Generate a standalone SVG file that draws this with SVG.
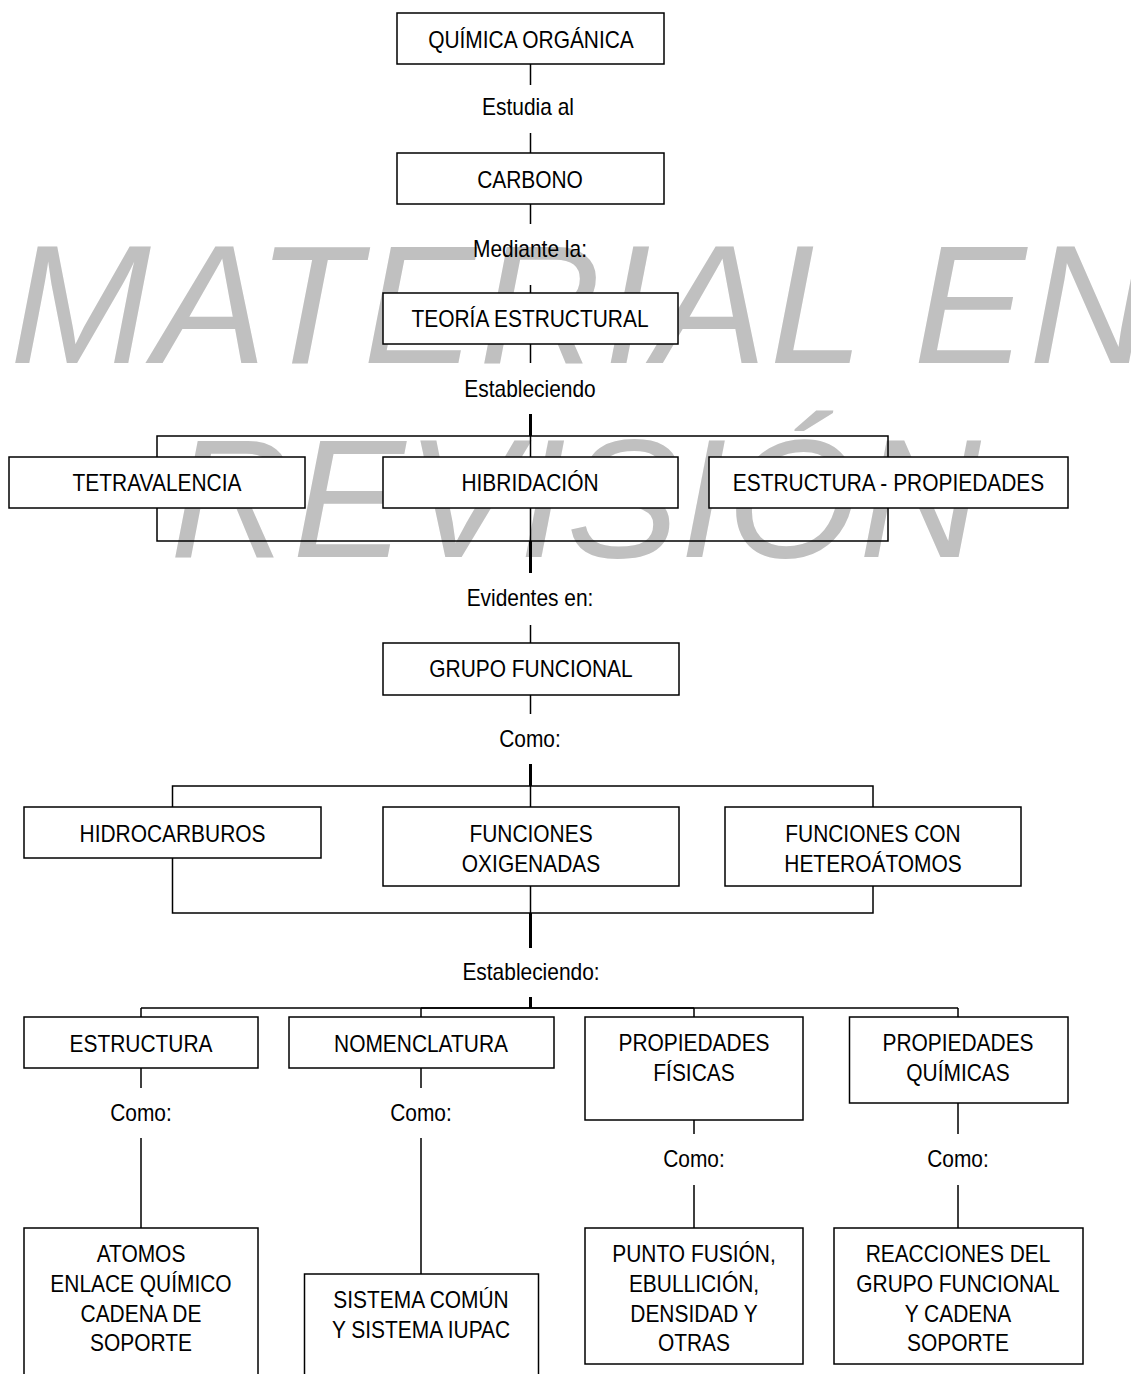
<svg xmlns="http://www.w3.org/2000/svg" width="1131" height="1374" viewBox="0 0 1131 1374">
<style>
.wm{font-family:"Liberation Sans",Arial,sans-serif;font-style:italic;font-size:169px;fill:#c0c0c0}
.t{font-family:"Liberation Sans",Arial,sans-serif;font-size:23px;fill:#000;text-anchor:middle}
.box{fill:#fff;stroke:#000;stroke-width:1.5}
.ln{stroke:#000;stroke-width:1.5;fill:none}
.tk{stroke:#000;stroke-width:3;fill:none}
</style>
<rect width="1131" height="1374" fill="#fff"/>
<g id="watermark">
<text class="wm" x="10" y="363" letter-spacing="3">MATERIAL EN</text>
<text class="wm" x="170" y="557" letter-spacing="0.5">REVISIÓN</text>
</g>
<g id="connectors">
<path class="ln" d="M530.5 64V85M530.5 133V153M530.5 204V224M530.5 285V293M530.5 344V363M530.5 436V457M530.5 508V541M530.5 625V643M530.5 695V714M530.5 786V807M530.5 886V913"/>
<path class="tk" d="M530.5 414V436M530.5 541V573M530.5 764V786M530.5 913V948M530.5 997V1008"/>
<rect class="ln" x="157" y="436" width="731" height="105"/>
<rect class="ln" x="172.5" y="786" width="700.5" height="127"/>
<path class="ln" d="M141 1008H958M141 1008V1017M421 1008V1017M694 1008V1017M958 1008V1017"/>
<path class="ln" stroke-width="2" d="M421 1008H694"/>
<path class="ln" d="M141 1068V1088M141 1138V1228M421 1068V1088M421 1138V1274M694 1120V1134M694 1185V1228M958 1103V1134M958 1185V1228"/>
</g>
<g id="n-quimica"><rect class="box" x="397" y="13" width="267" height="51"/><text class="t" transform="translate(531 48) scale(.91 1)">QUÍMICA ORGÁNICA</text></g>
<g id="l-estudia"><text class="t" transform="translate(528 115) scale(.91 1)">Estudia al</text></g>
<g id="n-carbono"><rect class="box" x="397" y="153" width="267" height="51"/><text class="t" transform="translate(530 188) scale(.91 1)">CARBONO</text></g>
<g id="l-mediante"><text class="t" transform="translate(530 257) scale(.91 1)">Mediante la:</text></g>
<g id="n-teoria"><rect class="box" x="383" y="293" width="295" height="51"/><text class="t" transform="translate(530 327) scale(.91 1)">TEORÍA ESTRUCTURAL</text></g>
<g id="l-estableciendo1"><text class="t" transform="translate(530 397) scale(.91 1)">Estableciendo</text></g>
<g id="n-tetra"><rect class="box" x="9" y="457" width="296" height="51"/><text class="t" transform="translate(157 491) scale(.91 1)">TETRAVALENCIA</text></g>
<g id="n-hibrid"><rect class="box" x="383" y="457" width="295" height="51"/><text class="t" transform="translate(530 491) scale(.91 1)">HIBRIDACIÓN</text></g>
<g id="n-estprop"><rect class="box" x="709" y="457" width="359" height="51"/><text class="t" transform="translate(888.5 491) scale(.91 1)">ESTRUCTURA - PROPIEDADES</text></g>
<g id="l-evidentes"><text class="t" transform="translate(530 606) scale(.91 1)">Evidentes en:</text></g>
<g id="n-grupo"><rect class="box" x="383" y="643" width="296" height="52"/><text class="t" transform="translate(531 677) scale(.91 1)">GRUPO FUNCIONAL</text></g>
<g id="l-como1"><text class="t" transform="translate(530 747) scale(.91 1)">Como:</text></g>
<g id="n-hidro"><rect class="box" x="24" y="807" width="297" height="51"/><text class="t" transform="translate(172.5 842) scale(.91 1)">HIDROCARBUROS</text></g>
<g id="n-oxig"><rect class="box" x="383" y="807" width="296" height="79"/><text class="t" transform="translate(531 842) scale(.91 1)"><tspan x="0" y="0">FUNCIONES</tspan><tspan x="0" y="30">OXIGENADAS</tspan></text></g>
<g id="n-hetero"><rect class="box" x="725" y="807" width="296" height="79"/><text class="t" transform="translate(873 842) scale(.91 1)"><tspan x="0" y="0">FUNCIONES CON</tspan><tspan x="0" y="30">HETEROÁTOMOS</tspan></text></g>
<g id="l-estableciendo2"><text class="t" transform="translate(531 980) scale(.91 1)">Estableciendo:</text></g>
<g id="n-estructura"><rect class="box" x="24" y="1017" width="234" height="51"/><text class="t" transform="translate(141 1052) scale(.91 1)">ESTRUCTURA</text></g>
<g id="n-nomen"><rect class="box" x="289" y="1017" width="265" height="51"/><text class="t" transform="translate(421 1052) scale(.91 1)">NOMENCLATURA</text></g>
<g id="n-pfis"><rect class="box" x="585" y="1017" width="218" height="103"/><text class="t" transform="translate(694 1051) scale(.91 1)"><tspan x="0" y="0">PROPIEDADES</tspan><tspan x="0" y="30">FÍSICAS</tspan></text></g>
<g id="n-pquim"><rect class="box" x="849.5" y="1017" width="218.5" height="86"/><text class="t" transform="translate(958 1051) scale(.91 1)"><tspan x="0" y="0">PROPIEDADES</tspan><tspan x="0" y="30">QUÍMICAS</tspan></text></g>
<g id="l-como2"><text class="t" transform="translate(141 1121) scale(.91 1)">Como:</text></g>
<g id="l-como3"><text class="t" transform="translate(421 1121) scale(.91 1)">Como:</text></g>
<g id="l-como4"><text class="t" transform="translate(694 1167) scale(.91 1)">Como:</text></g>
<g id="l-como5"><text class="t" transform="translate(958 1167) scale(.91 1)">Como:</text></g>
<g id="n-atomos"><rect class="box" x="24" y="1228" width="234" height="160"/><text class="t" transform="translate(141 1262) scale(.91 1)"><tspan x="0" y="0">ATOMOS</tspan><tspan x="0" y="30">ENLACE QUÍMICO</tspan><tspan x="0" y="60">CADENA DE</tspan><tspan x="0" y="89">SOPORTE</tspan></text></g>
<g id="n-sistema"><rect class="box" x="304.5" y="1274" width="234" height="120"/><text class="t" transform="translate(421 1308) scale(.91 1)"><tspan x="0" y="0">SISTEMA COMÚN</tspan><tspan x="0" y="30">Y SISTEMA IUPAC</tspan></text></g>
<g id="n-punto"><rect class="box" x="585" y="1228" width="218" height="136"/><text class="t" transform="translate(694 1262) scale(.91 1)"><tspan x="0" y="0">PUNTO FUSIÓN,</tspan><tspan x="0" y="30">EBULLICIÓN,</tspan><tspan x="0" y="60">DENSIDAD Y</tspan><tspan x="0" y="89">OTRAS</tspan></text></g>
<g id="n-reacc"><rect class="box" x="834" y="1228" width="249" height="136"/><text class="t" transform="translate(958 1262) scale(.91 1)"><tspan x="0" y="0">REACCIONES DEL</tspan><tspan x="0" y="30">GRUPO FUNCIONAL</tspan><tspan x="0" y="60">Y CADENA</tspan><tspan x="0" y="89">SOPORTE</tspan></text></g>
</svg>
